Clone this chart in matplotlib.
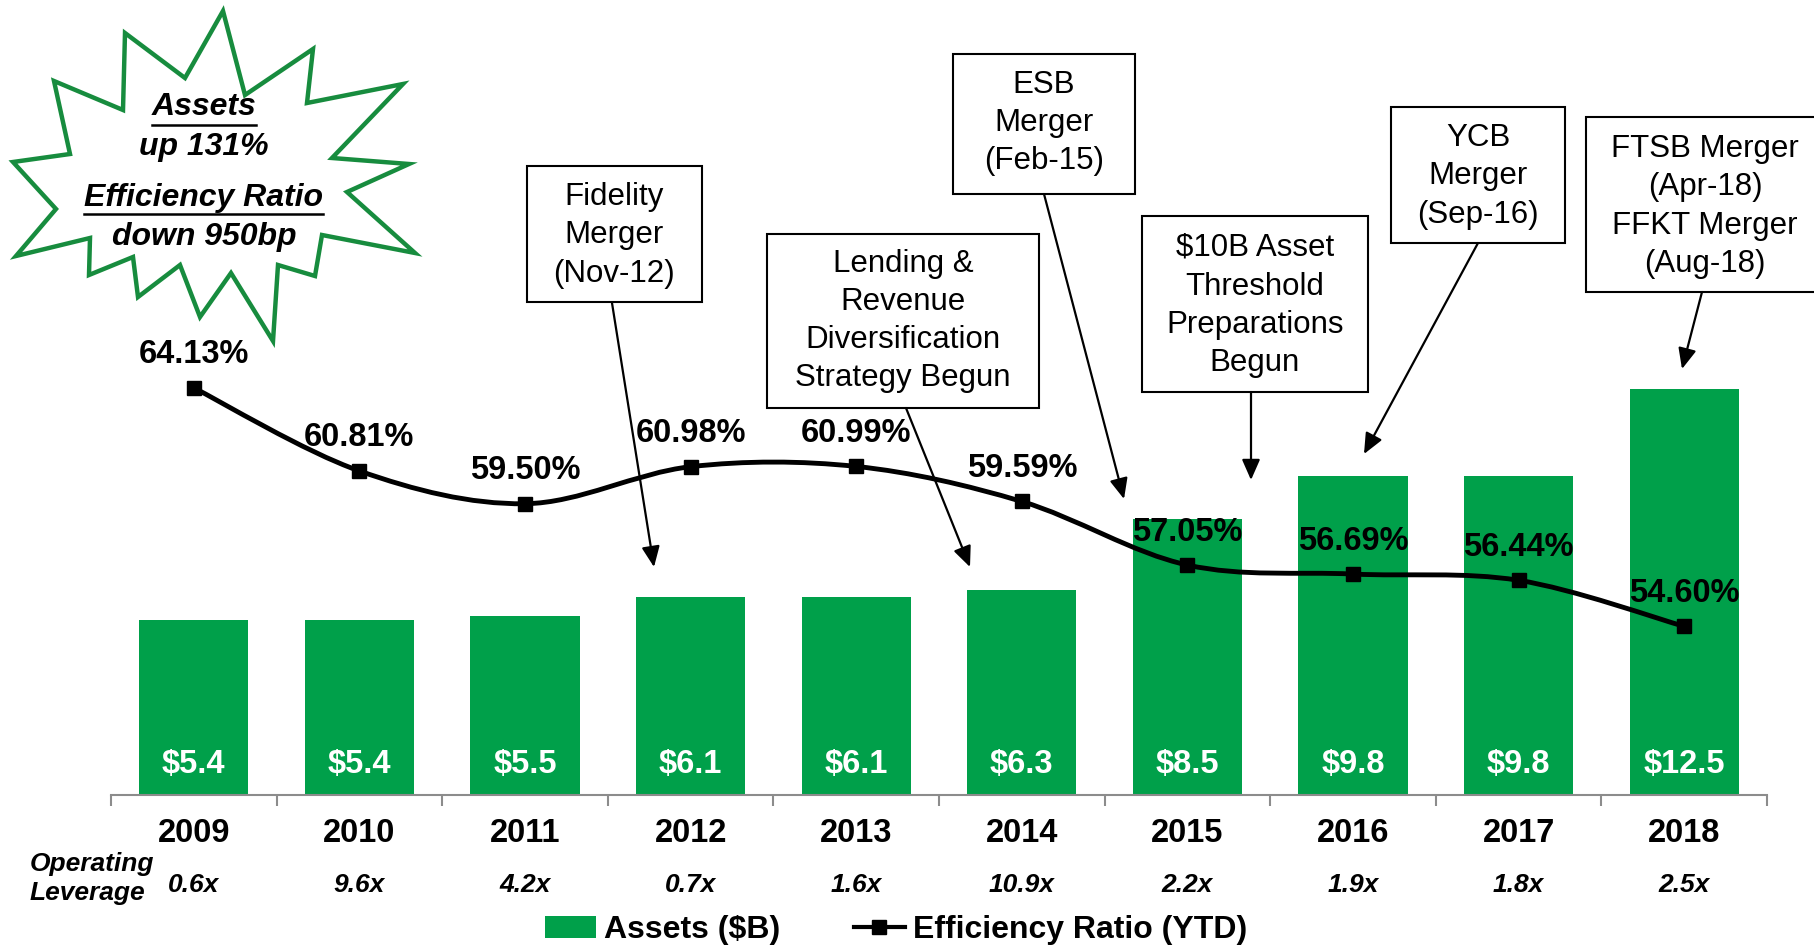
import numpy as np
import matplotlib
matplotlib.use("Agg")
import matplotlib.pyplot as plt
from matplotlib.path import Path
from matplotlib.patches import PathPatch, Polygon, Rectangle, FancyArrowPatch, Patch
from matplotlib.lines import Line2D

plt.rcParams['font.family'] = ['Liberation Sans', 'DejaVu Sans']

# ---------------- data ----------------
years = ['2009', '2010', '2011', '2012', '2013', '2014', '2015', '2016', '2017', '2018']
assets = [5.4, 5.4, 5.5, 6.1, 6.1, 6.3, 8.5, 9.8, 9.8, 12.5]
efficiency = [64.13, 60.81, 59.50, 60.98, 60.99, 59.59, 57.05, 56.69, 56.44, 54.60]
op_leverage = ['0.6x', '9.6x', '4.2x', '0.7x', '1.6x', '10.9x', '2.2x', '1.9x', '1.8x', '2.5x']
legend_labels = ['Assets ($B)', 'Efficiency Ratio (YTD)']

notes = [
    ['Fidelity', 'Merger', '(Nov-12)'],
    ['Lending &', 'Revenue', 'Diversification', 'Strategy Begun'],
    ['ESB', 'Merger', '(Feb-15)'],
    ['$10B Asset', 'Threshold', 'Preparations', 'Begun'],
    ['YCB', 'Merger', '(Sep-16)'],
    ['FTSB Merger', '(Apr-18)', 'FFKT Merger', '(Aug-18)'],
]
burst_lines = ['Assets', 'up 131%', 'Efficiency Ratio', 'down 950bp']
burst_underlined = [True, False, True, False]

# ---------------- styling / layout ----------------
W, H = 1815, 947
GREEN = '#00A04A'
STAR_GREEN = '#178C3E'
GRAY = '#8C8C8C'

def fx(px):
    return px / W

def fy(py):
    return 1 - py / H

fig = plt.figure(figsize=(W / 100, H / 100), dpi=100)
fig.patch.set_facecolor('white')

base_px = 795
ax = fig.add_axes([fx(111), fy(base_px), fx(1656), base_px / H])
x = np.arange(len(years))
ax.bar(x, assets, width=0.66, color=GREEN, zorder=1)
ax.set_xlim(-0.5, len(years) - 0.5)
ax.set_ylim(0, base_px / 32.5)
for s in ['left', 'right', 'top']:
    ax.spines[s].set_visible(False)
ax.spines['bottom'].set_color(GRAY)
ax.spines['bottom'].set_linewidth(1.5)
ax.set_yticks([])
ax.set_xticks(np.arange(-0.5, len(years), 1))
ax.set_xticklabels([])
ax.tick_params(axis='x', length=8, width=1.5, color=GRAY, direction='out')
ax.patch.set_alpha(0)

for i, v in enumerate(assets):
    ax.annotate(f'${v:.1f}', (i, 0), xytext=(0, 31), textcoords='offset pixels',
                ha='center', va='center', color='white', fontsize=23.5, fontweight='bold',
                annotation_clip=False)
for i, yr in enumerate(years):
    ax.annotate(yr, (i, 0), xytext=(0, -38), textcoords='offset pixels',
                ha='center', va='center', color='black', fontsize=23.5, fontweight='bold',
                annotation_clip=False)
for i, ol in enumerate(op_leverage):
    ax.annotate(ol, (i, 0), xytext=(0, -90), textcoords='offset pixels',
                ha='center', va='center', color='black', fontsize=19, fontweight='bold',
                fontstyle='italic', annotation_clip=False)
fig.text(fx(30), fy(864), 'Operating', ha='left', va='center', fontsize=19,
         fontweight='bold', fontstyle='italic')
fig.text(fx(30), fy(893), 'Leverage', ha='left', va='center', fontsize=19,
         fontweight='bold', fontstyle='italic')

# efficiency ratio line (smoothed Bezier through data points)
ax2 = ax.twinx()
ax2.set_ylim(47.86, 79.63)
ax2.set_yticks([])
for s in ['left', 'right', 'top', 'bottom']:
    ax2.spines[s].set_visible(False)
pts = np.column_stack([x, efficiency]).astype(float)
verts = [tuple(pts[0])]
codes = [Path.MOVETO]
n = len(pts)
for i in range(n - 1):
    p0 = pts[i - 1] if i > 0 else pts[i]
    p1 = pts[i]
    p2 = pts[i + 1]
    p3 = pts[i + 2] if i + 2 < n else pts[i + 1]
    c1 = p1 + (p2 - p0) / 6.0
    c2 = p2 - (p3 - p1) / 6.0
    verts += [tuple(c1), tuple(c2), tuple(p2)]
    codes += [Path.CURVE4] * 3
ax2.add_patch(PathPatch(Path(verts, codes), fill=False, lw=3.5, edgecolor='black',
                        capstyle='round', joinstyle='round', zorder=3))
ax2.plot(x, efficiency, ls='none', marker='s', ms=10, color='black', zorder=4)
for i, v in enumerate(efficiency):
    ax2.annotate(f'{v:.2f}%', (i, v), xytext=(0, 33), textcoords='offset pixels',
                 ha='center', va='center', fontsize=23.5, fontweight='bold', color='black',
                 annotation_clip=False, zorder=5)

# legend
handles = [Patch(facecolor=GREEN, edgecolor='none'),
           Line2D([], [], color='black', lw=3, marker='s', ms=10)]
fig.legend(handles, legend_labels, loc='center', bbox_to_anchor=(fx(896), fy(930)),
           ncol=2, frameon=False, prop={'weight': 'bold', 'size': 23},
           handlelength=1.6, handletextpad=0.25, columnspacing=2.3, borderpad=0)

# starburst
burst = [(223, 11), (245, 95), (313, 49), (307, 103), (403, 84), (332, 158), (409, 164),
         (347, 192), (415, 253), (322, 235), (315, 276), (278, 265), (273, 341), (231, 273),
         (200, 317), (180, 265), (138, 297), (133, 257), (89, 275), (90, 238), (16, 256),
         (56, 209), (13, 162), (70, 154), (54, 81), (123, 110), (125, 33), (185, 78)]
fig.add_artist(Polygon([(fx(a), fy(b)) for a, b in burst], closed=True, facecolor='white',
                       edgecolor=STAR_GREEN, lw=3.2, transform=fig.transFigure, zorder=6))
burst_y = [107, 147, 198, 237]
burst_texts = []
for line, yy in zip(burst_lines, burst_y):
    t = fig.text(fx(204), fy(yy), line, ha='center', va='center', fontsize=23,
                 fontweight='bold', fontstyle='italic', zorder=7)
    burst_texts.append(t)

# annotation boxes and arrows
boxes = [(527, 166, 702, 302), (767, 234, 1039, 408), (953, 54, 1135, 194),
         (1142, 216, 1368, 392), (1391, 107, 1565, 243), (1586, 117, 1830, 292)]
line_y = [[197, 235, 274], [264, 302, 340, 378], [85, 123, 161],
          [248, 287, 325, 363], [138, 176, 215], [149, 187, 226, 264]]
text_x = [614, 903, 1044, 1255, 1478, 1705]
arrows = [((612, 303), (654, 567)), ((906, 408), (970, 567)), ((1044, 194), (1124, 499)),
          ((1251, 392), (1251, 480)), ((1478, 243), (1364, 454)), ((1702, 292), (1682, 369))]
for (x0, y0, x1, y1), lines, ys, tx, (pa, pb) in zip(boxes, notes, line_y, text_x, arrows):
    fig.add_artist(Rectangle((fx(x0), fy(y1)), fx(x1 - x0), (y1 - y0) / H,
                             transform=fig.transFigure, facecolor='white', edgecolor='black',
                             lw=1.5, zorder=6))
    for ln, yy in zip(lines, ys):
        fig.text(fx(tx), fy(yy), ln, ha='center', va='center', fontsize=22.5, zorder=7)
    fig.add_artist(FancyArrowPatch((fx(pa[0]), fy(pa[1])), (fx(pb[0]), fy(pb[1])),
                                   transform=fig.transFigure,
                                   arrowstyle='-|>,head_length=0.5,head_width=0.22',
                                   mutation_scale=25, lw=1.6, color='black',
                                   shrinkA=0, shrinkB=0, zorder=6))

# underlines for starburst headings
fig.canvas.draw()
r = fig.canvas.get_renderer()
under_y = [125, None, 214, None]
for t, u, uy in zip(burst_texts, burst_underlined, under_y):
    if u:
        bb = t.get_window_extent(renderer=r)
        fig.add_artist(Line2D([bb.x0 / W, bb.x1 / W], [fy(uy), fy(uy)],
                              transform=fig.transFigure, color='black', lw=1.8, zorder=7))

fig.savefig('out.png', dpi=100, facecolor='white')
